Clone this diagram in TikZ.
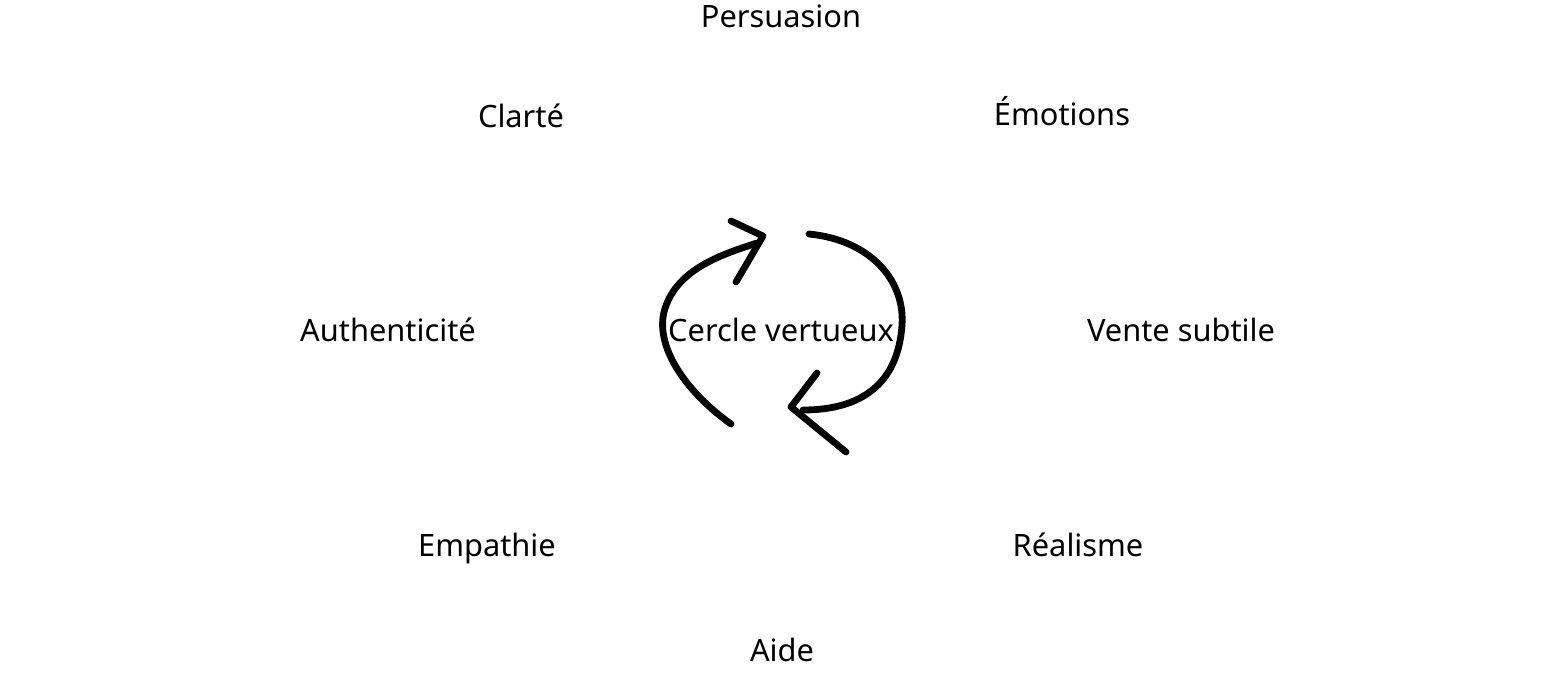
\documentclass[tikz,border=0pt]{standalone}
\usepackage{fontspec}
\setmainfont{Noto Sans}
\usepackage{tikz}
\usetikzlibrary{calc}

\begin{document}
\begin{tikzpicture}[x=0.5pt,y=-0.5pt,
  label/.style={font=\fontsize{15.4}{18}\selectfont, inner sep=0pt,
    text height=0.76em, text depth=0.24em, yshift=-3pt},
  stroke/.style={line width=3.4pt, line cap=round, line join=round}]
\useasboundingbox (0,0) rectangle (1563,679);
% labels round the circle
\node[label] (persuasion) at (781,16) {Persuasion};
\node[label] (clarte) at (521,116) {Clarté};
\node[label] (emotions) at (1062,114) {Émotions};
\node[label] (authenticite) at (388,330) {Authenticité};
\node[label] (vente) at (1181,330) {Vente subtile};
\node[label] (empathie) at (487,545) {Empathie};
\node[label] (realisme) at (1078,545) {Réalisme};
\node[label] (aide) at (782,650) {Aide};
\node[label] (cercle) at (781,330) {Cercle vertueux};
% left arrow
\draw[stroke] (731,424) .. controls (690,395) and (655,350) .. (664,312)
  .. controls (675,270) and (720,255) .. (757,243);
\draw[stroke] (731,221) -- (763,236) -- (736,282);
% right arrow
\draw[stroke] (809,234) .. controls (870,240) and (905,280) .. (902,325)
  .. controls (898,385) and (860,410) .. (803,410);
\draw[stroke] (817,373) -- (791,407) -- (846,452);
\end{tikzpicture}
\end{document}
